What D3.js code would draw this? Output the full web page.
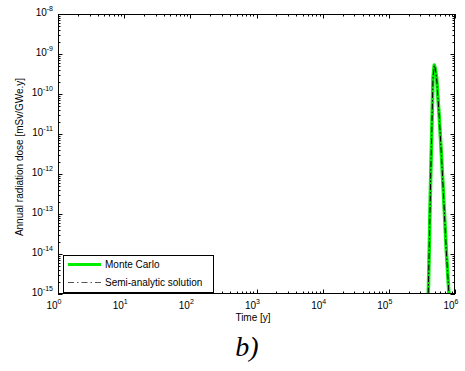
<!DOCTYPE html>
<html><head><meta charset="utf-8">
<script src="https://cdn.jsdelivr.net/npm/d3@7"></script>
<style>body{margin:0;background:#fff;} svg{display:block;font-family:"Liberation Sans",Arial,sans-serif;}</style>
</head><body>
<svg id="c" width="465" height="371"></svg>
<script>
const timeMC = [3.55e5, 3.94e5, 3.95e5, 4.14e5, 4.15e5, 4.29e5, 4.45e5, 4.65e5, 4.86e5, 5.0e5, 5.28e5, 5.78e5, 6.3e5, 6.8e5, 7.38e5, 8.1e5, 8.9e5];
const doseMC = [1e-17, 1e-16, 1e-15, 4e-14, 6e-14, 8.4e-13, 1.06e-11, 2.5e-10, 5.3e-10, 4.5e-10, 2.5e-10, 2.7e-11, 2.2e-12, 1.9e-13, 1.26e-14, 1e-15, 5e-17];
const timeSA = [3.55e5, 3.94e5, 4.14e5, 4.29e5, 4.45e5, 4.65e5, 4.86e5, 5.0e5, 5.28e5, 5.78e5, 6.3e5, 6.8e5, 7.38e5, 8.1e5, 8.9e5];
const doseSA = [1e-17, 1e-15, 4e-14, 8.4e-13, 1.06e-11, 2.5e-10, 5.2e-10, 4.5e-10, 2.5e-10, 2.7e-11, 2.2e-12, 1.9e-13, 1.26e-14, 1e-15, 5e-17];
const xTickExp = [0, 1, 2, 3, 4, 5, 6];
const yTickExp = [-15, -14, -13, -12, -11, -10, -9, -8];
const legendLabels = ["Monte Carlo", "Semi-analytic solution"];

const svg = d3.select("#c");
const L = 58, R = 455, T = 14, B = 294;
const x = d3.scaleLog().domain([1, 1e6]).range([L, R]);
const y = d3.scaleLog().domain([1e-15, 1e-8]).range([B, T]);

svg.append("defs").append("clipPath").attr("id", "clip")
  .append("rect").attr("x", L).attr("y", T).attr("width", R - L).attr("height", B - T);

// ticks
const g = svg.append("g").attr("stroke", "#000").attr("stroke-width", 1);
const xMinor = [], yMinor = [];
for (let e = 0; e < 6; e++) for (let m = 2; m <= 9; m++) xMinor.push(m * Math.pow(10, e));
for (let e = -15; e < -8; e++) for (let m = 2; m <= 9; m++) yMinor.push(m * Math.pow(10, e));
xMinor.forEach(v => {
  const px = Math.round(x(v)) + 0.5;
  g.append("line").attr("x1", px).attr("x2", px).attr("y1", B).attr("y2", B - 2.5);
  g.append("line").attr("x1", px).attr("x2", px).attr("y1", T).attr("y2", T + 2.5);
});
yMinor.forEach(v => {
  const py = Math.round(y(v)) + 0.5;
  g.append("line").attr("y1", py).attr("y2", py).attr("x1", L).attr("x2", L + 2.5);
  g.append("line").attr("y1", py).attr("y2", py).attr("x1", R).attr("x2", R - 2.5);
});
xTickExp.forEach(e => {
  const px = Math.round(x(Math.pow(10, e))) + 0.5;
  g.append("line").attr("x1", px).attr("x2", px).attr("y1", B).attr("y2", B - 4.5);
  g.append("line").attr("x1", px).attr("x2", px).attr("y1", T).attr("y2", T + 4.5);
});
yTickExp.forEach(e => {
  const py = Math.round(y(Math.pow(10, e))) + 0.5;
  g.append("line").attr("y1", py).attr("y2", py).attr("x1", L).attr("x2", L + 4.5);
  g.append("line").attr("y1", py).attr("y2", py).attr("x1", R).attr("x2", R - 4.5);
});

// lines
const line = d3.line().x(d => x(d[0])).y(d => y(d[1]));
const pg = svg.append("g").attr("clip-path", "url(#clip)");
pg.append("path").datum(timeMC.map((t, i) => [t, doseMC[i]]))
  .attr("d", line).attr("fill", "none").attr("stroke", "#00ee00").attr("stroke-width", 3.5).attr("stroke-linejoin", "round");
pg.append("path").datum(timeSA.map((t, i) => [t, doseSA[i]]))
  .attr("d", line).attr("fill", "none").attr("stroke", "#000").attr("stroke-width", 1).attr("stroke-dasharray", "6,2,1.5,2");

// frame
svg.append("rect").attr("x", L + 0.5).attr("y", T + 0.5).attr("width", R - L - 1).attr("height", B - T - 1)
  .attr("fill", "none").attr("stroke", "#000").attr("stroke-width", 1);

// tick labels
xTickExp.forEach(e => {
  const t = svg.append("text").attr("x", x(Math.pow(10, e)) - 4).attr("y", B + 15)
    .attr("text-anchor", "middle").attr("font-size", 10).attr("fill", "#000");
  t.append("tspan").text("10");
  t.append("tspan").attr("dy", -5).attr("font-size", 7).text(e);
});
yTickExp.forEach(e => {
  const t = svg.append("text").attr("x", L - 5).attr("y", y(Math.pow(10, e)) + 2)
    .attr("text-anchor", "end").attr("font-size", 10).attr("fill", "#000");
  t.append("tspan").text("10");
  t.append("tspan").attr("dy", -5).attr("font-size", 7).text(e);
});

// axis labels
svg.append("text").attr("x", 253).attr("y", 321).attr("text-anchor", "middle")
  .attr("font-size", 10).text("Time [y]");
svg.append("text").attr("transform", "translate(23,157) rotate(-90)").attr("text-anchor", "middle")
  .attr("font-size", 10).text("Annual radiation dose [mSv/GWe.y]");

// legend
const lg = svg.append("g");
lg.append("rect").attr("x", 63.5).attr("y", 255.5).attr("width", 150).attr("height", 37)
  .attr("fill", "#fff").attr("stroke", "#000").attr("stroke-width", 1);
lg.append("line").attr("x1", 68).attr("x2", 101).attr("y1", 264.5).attr("y2", 264.5)
  .attr("stroke", "#00ee00").attr("stroke-width", 3);
lg.append("line").attr("x1", 68).attr("x2", 101).attr("y1", 282.5).attr("y2", 282.5)
  .attr("stroke", "#555").attr("stroke-width", 1).attr("stroke-dasharray", "6,3,1.5,3");
lg.append("text").attr("x", 105).attr("y", 268).attr("font-size", 10).text(legendLabels[0]);
lg.append("text").attr("x", 105).attr("y", 286).attr("font-size", 10).text(legendLabels[1]);

// caption
svg.append("text").attr("x", 247).attr("y", 356).attr("text-anchor", "middle")
  .attr("font-family", "'Liberation Serif','Times New Roman',serif").attr("font-style", "italic")
  .attr("font-size", 28).text("b)");
</script>
</body></html>
